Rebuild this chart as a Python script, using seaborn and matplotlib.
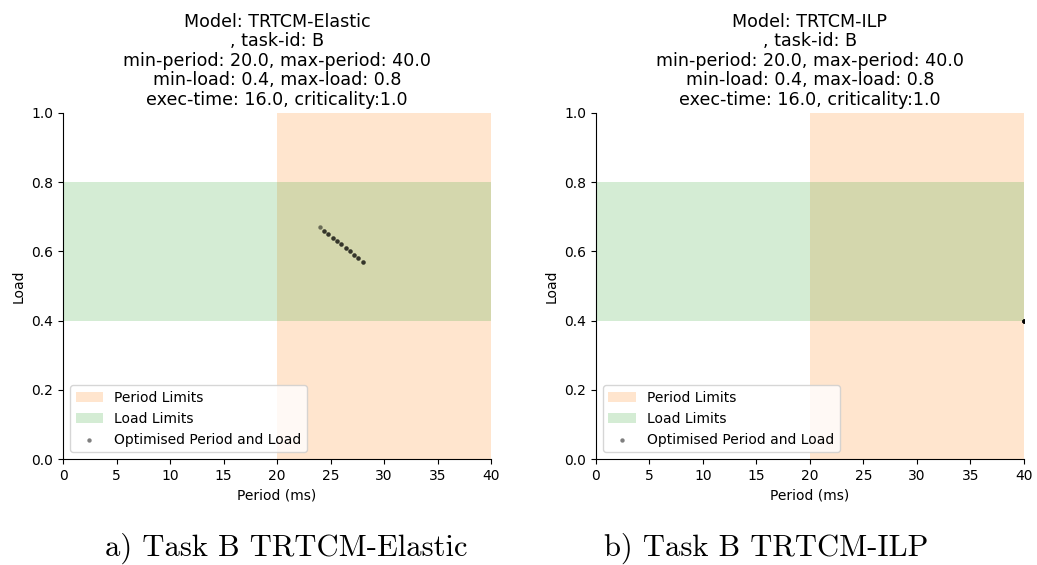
import matplotlib
matplotlib.use("Agg")
import matplotlib.pyplot as plt
import seaborn as sns
import pandas as pd

# Task limits
min_period, max_period = 20.0, 40.0
min_load, max_load = 0.4, 0.8
exec_time, criticality = 16.0, 1.0
task_id = "B"
models = ["TRTCM-Elastic", "TRTCM-ILP"]
captions = ["a) Task B TRTCM-Elastic", "b) Task B TRTCM-ILP"]

# Optimised (period, load) results per model, over repeated runs
elastic_period = [24.0, 24.4, 24.4, 24.8, 24.8, 25.2, 25.2, 25.6, 25.6, 26.0, 26.0,
                  26.4, 26.4, 26.8, 26.8, 27.2, 27.2, 27.6, 27.6, 28.0, 28.0]
elastic_load = [0.67, 0.66, 0.66, 0.65, 0.65, 0.64, 0.64, 0.63, 0.63, 0.62, 0.62,
                0.61, 0.61, 0.60, 0.60, 0.59, 0.59, 0.58, 0.58, 0.57, 0.57]
ilp_period = [40.0, 40.0, 40.0, 40.0, 40.0, 40.0]
ilp_load = [0.4, 0.4, 0.4, 0.4, 0.4, 0.4]

results = [
    pd.DataFrame({"period": elastic_period, "load": elastic_load}),
    pd.DataFrame({"period": ilp_period, "load": ilp_load}),
]

fig = plt.figure(figsize=(10.37, 5.65), dpi=100)
ax_boxes = [[0.0608, 0.1876, 0.4127, 0.6124], [0.5747, 0.1876, 0.4127, 0.6124]]
caption_x = [0.276, 0.739]

for i, (model, df) in enumerate(zip(models, results)):
    ax = fig.add_axes(ax_boxes[i])
    ax.axvspan(min_period, max_period, color="C1", alpha=0.2, lw=0, label="Period Limits")
    ax.axhspan(min_load, max_load, color="C2", alpha=0.2, lw=0, label="Load Limits")
    sns.scatterplot(data=df, x="period", y="load", ax=ax, color="black", alpha=0.5,
                    s=10, linewidth=0, label="Optimised Period and Load")
    ax.set_xlim(0, 40)
    ax.set_ylim(0, 1.0)
    ax.set_xlabel("Period (ms)")
    ax.set_ylabel("Load")
    ax.set_title(f"Model: {model}\n, task-id: {task_id}\n"
                 f"min-period: {min_period}, max-period: {max_period}\n"
                 f"min-load: {min_load}, max-load: {max_load}\n"
                 f"exec-time: {exec_time}, criticality:{criticality}",
                 fontsize=12.6, linespacing=1.1)
    ax.legend(loc="lower left", fontsize=10)
    sns.despine(ax=ax)
    fig.text(caption_x[i], 0.03, captions[i], ha="center", va="center",
             fontsize=22, family="cmr10")

fig.savefig("out.png", dpi=100)
